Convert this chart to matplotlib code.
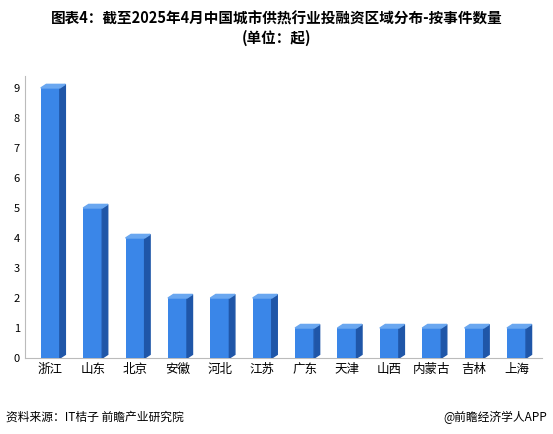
import matplotlib.pyplot as plt
from matplotlib.patches import Polygon

plt.rcParams['font.family'] = ['Noto Sans CJK SC', 'DejaVu Sans']

regions = ['浙江', '山东', '北京', '安徽', '河北', '江苏', '广东', '天津', '山西', '内蒙古', '吉林', '上海']
counts = [9, 5, 4, 2, 2, 2, 1, 1, 1, 1, 1, 1]

fig = plt.figure(figsize=(5.53, 4.34), dpi=100)
ax = fig.add_axes([0.045, 0.175, 0.935, 0.65])

w = 0.45
dx, dy = 0.13, 0.12
for i, v in enumerate(counts):
    x0 = i - w / 2
    x1 = i + w / 2
    ax.bar(i, v, width=w, color='#3a86e8', edgecolor='none', zorder=3)
    ax.add_patch(Polygon([(x1, 0), (x1 + dx, dy), (x1 + dx, v + dy), (x1, v)],
                         closed=True, color='#1f56a8', zorder=3))
    ax.add_patch(Polygon([(x0, v), (x0 + dx, v + dy), (x1 + dx, v + dy), (x1, v)],
                         closed=True, color='#6aa7f0', zorder=3))

ax.set_xticks(range(len(regions)))
ax.set_xticklabels(regions, fontsize=9)
ax.set_yticks(range(10))
ax.tick_params(axis='y', labelsize=8, length=0)
ax.tick_params(axis='x', length=0)
ax.set_xlim(-0.6, len(regions) - 0.4)
ax.set_ylim(0, 9.4)
for s in ['top', 'right']:
    ax.spines[s].set_visible(False)
ax.spines['left'].set_color('#bbbbbb')
ax.spines['bottom'].set_color('#bbbbbb')

fig.text(0.5, 0.975, '图表4：截至2025年4月中国城市供热行业投融资区域分布-按事件数量\n(单位：起)',
         ha='center', va='top', fontsize=10.5, fontweight='bold', linespacing=1.2)
fig.text(0.01, 0.03, '资料来源：IT桔子 前瞻产业研究院', fontsize=8.5, ha='left')
fig.text(0.99, 0.03, '@前瞻经济学人APP', fontsize=8.5, ha='right')

fig.savefig('out.png', dpi=100, facecolor='white')
